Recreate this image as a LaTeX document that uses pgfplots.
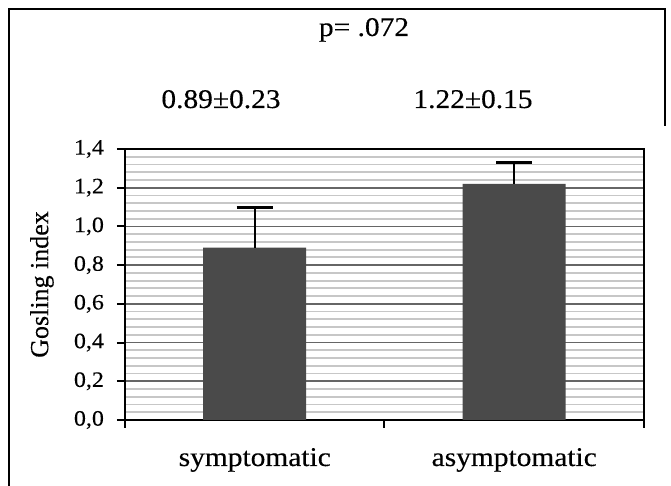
\documentclass[border=0pt]{standalone}
\usepackage{pgfplots}
\pgfplotsset{compat=1.18}
\usepackage{fontspec}
\setmainfont[FakeStretch=1.09, FakeBold=0.3]{Liberation Serif}
\newfontfamily\plainserif[FakeBold=0.3]{Liberation Serif}
\begin{document}
\begin{tikzpicture}
\useasboundingbox (0,0) rectangle (335.5pt,243pt);
\draw[line width=1pt] (4.5pt,0) -- (4.5pt,238.5pt) -- (332.5pt,238.5pt) -- (332.5pt,180pt);
\begin{axis}[
  at={(62.5pt,33pt)}, anchor=south west,
  width=259.5pt, height=135.5pt, scale only axis,
  xmin=-0.5, xmax=1.5, ymin=0, ymax=1.4,
  xtick={-0.5,0.5,1.5},
  xticklabels={symptomatic, asymptomatic},
  x tick label as interval,
  ytick={0,0.2,...,1.4},
  minor y tick num=4,
  ymajorgrids, yminorgrids,
  major grid style={draw=black!60, line width=0.9pt},
  minor grid style={draw=black!22, line width=0.9pt},
  tick align=outside,
  major tick length=4pt, minor tick length=0pt,
  xtick pos=bottom, ytick pos=left,
  axis line style={line width=1pt},
  every tick/.style={black, line width=1pt},
  yticklabel style={font=\fontsize{11}{12}\selectfont, xshift=-3pt,
    /pgf/number format/.cd, fixed, fixed zerofill, precision=1, use comma, assume math mode=true},
  xticklabel style={font=\fontsize{13.5}{15}\selectfont, anchor=base, yshift=-19pt},
  ylabel={Gosling index},
  every axis y label/.style={at={(axis description cs:-0.16,0.5)}, rotate=90, anchor=center, font=\plainserif\fontsize{13}{14}\selectfont},
]
\addplot[ybar, bar width=51.5pt, fill=black!71, draw=none,
  error bars/.cd, y dir=plus, y explicit, error mark=|,
  error bar style={line width=1pt, black},
  error mark options={line width=1.5pt, mark size=9pt, black}]
  coordinates {(0,0.89) +- (0,0.21) (1,1.22) +- (0,0.11)};
\end{axis}
\node[anchor=base, font=\fontsize{13.5}{15}\selectfont] at (182pt,225pt) {p= .072};
\node[anchor=base, font=\fontsize{13.5}{15}\selectfont] at (110.5pt,189pt) {0.89±0.23};
\node[anchor=base, font=\fontsize{13.5}{15}\selectfont] at (236.5pt,189pt) {1.22±0.15};
\end{tikzpicture}
\end{document}
